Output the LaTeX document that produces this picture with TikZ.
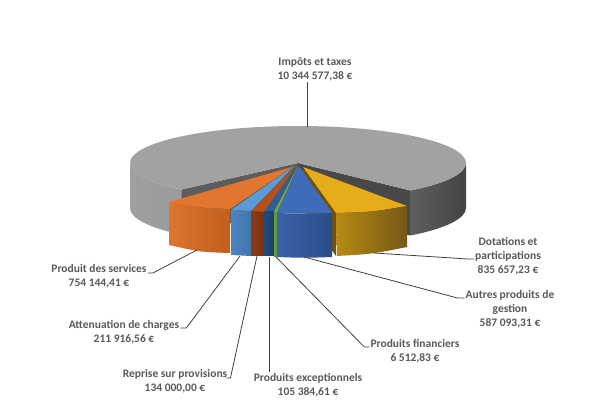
\documentclass[tikz,border=0pt]{standalone}
\usepackage{fontspec}
\setmainfont{Carlito}
\usetikzlibrary{calc}
\definecolor{lbl}{HTML}{595959}
\definecolor{lead}{HTML}{404040}
\definecolor{gtop}{HTML}{A2A2A2}
\definecolor{gside}{HTML}{9A9A9A}
\definecolor{gcutl}{HTML}{5C5C5C}
\definecolor{gcutr}{HTML}{484848}
\definecolor{gdark}{HTML}{434343}
\definecolor{otop}{HTML}{E2762E}
\definecolor{lbtop}{HTML}{5B9BD5}
\definecolor{rtop}{HTML}{B4501C}
\definecolor{dbtop}{HTML}{2E5E95}
\definecolor{grtop}{HTML}{70AD47}
\definecolor{grside}{HTML}{609A3A}
\definecolor{btop}{HTML}{3F6CB8}
\definecolor{ytop}{HTML}{E6AC19}
\definecolor{ycut}{HTML}{6E5210}
\tikzset{
  lab/.style={font=\fontsize{11.5}{14}\selectfont\bfseries, text=lbl, align=center, inner sep=1pt},
  leader/.style={draw=lead, line width=0.8pt},
  noline/.style={draw=none}
}
\begin{document}
\begin{tikzpicture}[x=1pt,y=-1pt]
\path[use as bounding box, fill=white] (0,0) rectangle (600,414);
% ---- gray slice (Impots et taxes) ----
\path[noline, left color=gdark!85!white, right color=gdark] (466,163) arc[start angle=0, end angle=48, x radius=168, y radius=37] -- ++(0,45) arc[start angle=48, end angle=0, x radius=168, y radius=37] -- cycle;
\path[noline, left color=gside!95!white, right color=gside] (130,163) arc[start angle=180, end angle=134, x radius=168, y radius=37] -- ++(0,45) arc[start angle=134, end angle=180, x radius=168, y radius=37] -- cycle;
\fill[gcutl] (298,163) -- (181.3,189.6) -- (181.3,234.6) -- (298,208) -- cycle;
\fill[gcutr] (298,163) -- (410.4,190.5) -- (410.4,235.5) -- (298,208) -- cycle;
\fill[gtop] (298,163) -- (410.4,190.5) arc[start angle=48, end angle=-226, x radius=168, y radius=37] -- cycle;
% ---- orange (Produit des services) ----
\fill[otop] (292,167) -- (169,202) .. controls (200,208) .. (230,209) -- cycle;
\path[noline, left color={rgb,255:red,222;green,116;blue,46}, right color={rgb,255:red,194;green,94;blue,30}] (169,202) .. controls (200,208) .. (230,209) -- (230,253) .. controls (200,252) .. (169,245) -- cycle;
% ---- light blue (Attenuation de charges) ----
\fill[lbtop] (294,166) -- (231,210) -- (251,211) -- cycle;
\path[noline, left color={rgb,255:red,78;green,134;blue,192}, right color={rgb,255:red,64;green,116;blue,172}] (231,210) -- (251,211) -- (251,256) -- (231,255) -- cycle;
% ---- rust (Reprise sur provisions) ----
\fill[rtop] (296,166) -- (251,211) -- (264,212) -- cycle;
\path[noline, left color={rgb,255:red,140;green,60;blue,20}, right color={rgb,255:red,120;green,50;blue,16}] (251,211) -- (264,212) -- (264,256) -- (251,256) -- cycle;
% ---- dark blue (Produits exceptionnels) ----
\fill[dbtop] (297,166) -- (264,212) -- (274,212) -- cycle;
\path[noline, left color={rgb,255:red,34;green,76;blue,122}, right color={rgb,255:red,28;green,64;blue,106}] (264,212) -- (274,212) -- (274,256) -- (264,256) -- cycle;
% ---- yellow (Dotations et participations) ----
\fill[ycut] (303,167) -- (336,213) -- (336,256) -- (303,210) -- cycle;
\fill[ytop] (303,167) -- (336,213) .. controls (372,212) .. (407,206) -- cycle;
\path[noline, left color={rgb,255:red,180;green,139;blue,20}, right color={rgb,255:red,118;green,88;blue,22}] (336,213) .. controls (372,212) .. (407,206) -- (407,247) .. controls (372,254) .. (337,256) -- cycle;
% ---- green (Produits financiers) ----
\fill[grtop] (298,166) -- (274,212) -- (277,212) -- cycle;
\fill[grside] (274,212) -- (277,212) -- (277,257) -- (274,257) -- cycle;
% ---- blue (Autres produits de gestion) ----
\fill[btop] (299,166) -- (277,213) .. controls (304,214) .. (332,213) -- cycle;
\path[noline, left color={rgb,255:red,58;green,98;blue,168}, right color={rgb,255:red,43;green,76;blue,136}] (277,213) .. controls (304,214) .. (332,213) -- (332,257) .. controls (304,258) .. (277,257) -- cycle;
% ---- leader anchor points on slices ----
\coordinate (impP) at (307,127);
\coordinate (servP) at (197,250);
\coordinate (attP) at (240,256);
\coordinate (repP) at (257,256);
\coordinate (excP) at (269,257);
\coordinate (finP) at (276,257);
\coordinate (autP) at (304,257);
\coordinate (dotP) at (374,253);
% ---- labels ----
\node[lab] (imp) at (315,69) {Impôts et taxes\\10 344 577,38 €};
\node[lab] (serv) at (99,276) {Produit des services\\754 144,41 €};
\node[lab] (att) at (124,332) {Attenuation de charges\\211 916,56 €};
\node[lab] (rep) at (175,381) {Reprise sur provisions\\134 000,00 €};
\node[lab] (exc) at (308,385) {Produits exceptionnels\\105 384,61 €};
\node[lab] (fin) at (415,351) {Produits financiers\\6 512,83 €};
\node[lab] (aut) at (510,309) {Autres produits de\\gestion\\587 093,31 €};
\node[lab] (dot) at (508,256) {Dotations et\\participations\\835 657,23 €};
% ---- leader lines ----
\draw[leader] (imp.south -| impP) -- (impP);
\draw[leader] ([yshift=3pt]serv.east) -- ++(5,0) -- (servP);
\draw[leader] ([yshift=4pt]att.east) -- ++(6,0) -- (attP);
\draw[leader] ([yshift=3pt,xshift=-2pt]rep.east) -- ++(4,0) -- (repP);
\draw[leader] (exc.north -| excP) -- (excP);
\draw[leader] ([yshift=4pt]fin.west) -- ++(-5,0) -- (finP);
\draw[leader] ([yshift=11pt]aut.west) -- ++(-7,0) -- (autP);
\draw[leader] ([yshift=-3pt]dot.west) -- ++(-6,0) -- (dotP);
\end{tikzpicture}
\end{document}
